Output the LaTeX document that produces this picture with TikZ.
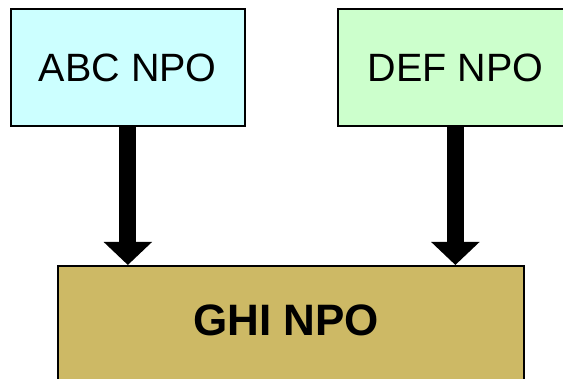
\documentclass[tikz,border=0pt]{standalone}
\usepackage{fontspec}
\setmainfont{Liberation Sans}
\usetikzlibrary{arrows.meta}
\definecolor{abcfill}{RGB}{204,255,255}
\definecolor{deffill}{RGB}{204,255,204}
\definecolor{ghifill}{RGB}{205,185,101}
\begin{document}
\begin{tikzpicture}[x=1pt,y=-1pt,
  org/.style={draw=black, line width=1.7pt, inner sep=0pt, anchor=north west},
  feed/.style={line width=17pt, -{Triangle[width=47pt,length=23pt]}}]
\useasboundingbox (0,0) rectangle (563,379);
% member organisations
\node[org, fill=abcfill, minimum width=234pt, minimum height=117pt,
      font=\fontsize{39.5}{44}\selectfont] (abc) at (10,8.5) {ABC NPO};
\node[org, fill=deffill, minimum width=235pt, minimum height=117pt,
      font=\fontsize{39.5}{44}\selectfont] (def) at (337,8.5) {DEF NPO};
% umbrella organisation
\node[org, fill=ghifill, minimum width=466pt, minimum height=120pt,
      font=\fontsize{44}{48}\selectfont\bfseries] (ghi) at (57,265)
      {\hspace*{-9pt}\raisebox{12pt}{GHI NPO}};
% links into the umbrella
\draw[feed] (abc.south) -- (abc.south |- ghi.north);
\draw[feed] (def.south) -- (def.south |- ghi.north);
\end{tikzpicture}
\end{document}
